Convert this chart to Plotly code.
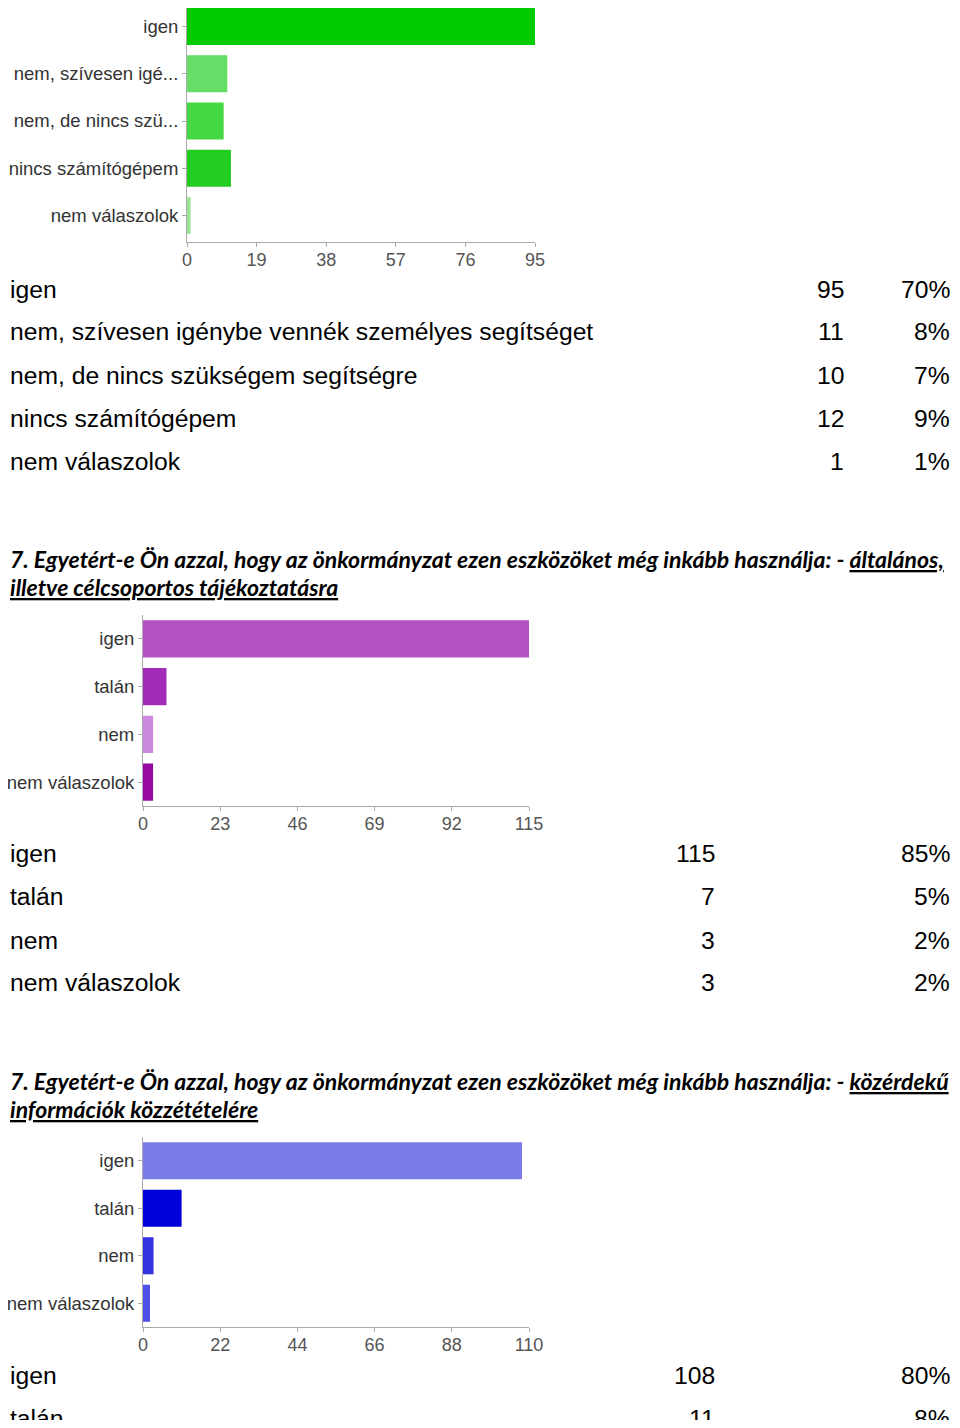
import plotly.graph_objects as go

# page is 960x1428, the html body adds an 8px margin, so the figure is a bit smaller
OFF = 8
W, H = 960 - 2 * OFF, 1428 - 2 * OFF

# question 6 (tail of previous page)
q6_axis = ["igen", "nem, szívesen igé...", "nem, de nincs szü...", "nincs számítógépem", "nem válaszolok"]
q6_rows = ["igen", "nem, szívesen igénybe vennék személyes segítséget",
           "nem, de nincs szükségem segítségre", "nincs számítógépem", "nem válaszolok"]
q6_counts = [95, 11, 10, 12, 1]
q6_pcts = ["70%", "8%", "7%", "9%", "1%"]
q6_colors = ["#00cc00", "#66dd66", "#44d944", "#22cc22", "#99e699"]

# question 7a
q7a_title = "7. Egyetért-e Ön azzal, hogy az önkormányzat ezen eszközöket még inkább használja: - <u>általános,</u>"
q7a_title2 = "<u>illetve célcsoportos tájékoztatásra</u>"
q7a_labels = ["igen", "talán", "nem", "nem válaszolok"]
q7a_counts = [115, 7, 3, 3]
q7a_pcts = ["85%", "5%", "2%", "2%"]
q7a_colors = ["#b452c5", "#a12cb8", "#cc88dd", "#990aa5"]

# question 7b
q7b_title = "7. Egyetért-e Ön azzal, hogy az önkormányzat ezen eszközöket még inkább használja: - <u>közérdekű</u>"
q7b_title2 = "<u>információk közzétételére</u>"
q7b_labels = ["igen", "talán", "nem", "nem válaszolok"]
q7b_counts = [108, 11, 3, 2]
q7b_pcts = ["80%", "8%"]
q7b_colors = ["#7b7be8", "#0000dd", "#3333e0", "#5050e8"]


def py(px):
    # page pixel -> paper fraction
    return min(max(1 - (px - OFF) / H, 0), 1)


def px_x(px):
    return min(max((px - OFF) / W, 0), 1)


fig = go.Figure()
layout = dict(width=W, height=H, margin=dict(l=0, r=0, t=0, b=0, autoexpand=False),
              paper_bgcolor="white", plot_bgcolor="white", showlegend=False,
              font=dict(family="Liberation Sans, Arial", color="#222"))

# (labels, counts, colors, x0, x1, top, bottom, dtick, xmax, y range)
charts = [
    (q6_axis, q6_counts, q6_colors, 187, 535, 8, 242, 19, 95, [4.561, -0.392]),
    (q7a_labels, q7a_counts, q7a_colors, 143, 529, 615, 806, 23, 115, None),
    (q7b_labels, q7b_counts, q7b_colors, 143, 529, 1137, 1327, 22, 110, None),
]

for i, (labels, counts, colors, x0, x1, top, bottom, step, xmax, yr) in enumerate(charts):
    n = "" if i == 0 else str(i + 1)
    fig.add_trace(go.Bar(
        x=counts, y=labels, orientation="h",
        marker=dict(color=colors, line=dict(width=0)),
        xaxis="x" + n, yaxis="y" + n, hoverinfo="x+y",
    ))
    layout["xaxis" + n] = dict(
        domain=[px_x(x0), px_x(x1)], range=[0, xmax], tick0=0, dtick=step,
        showgrid=False, zeroline=False, showline=True, linecolor="#aaa",
        ticks="outside", ticklen=4, tickcolor="#aaa", automargin=False,
        ticklabelstandoff=-3,
        tickfont=dict(size=18, color="#555"), anchor="y" + n, fixedrange=True,
    )
    yax = dict(
        domain=[py(bottom), py(top)],
        showgrid=False, zeroline=False, showline=True, linecolor="#aaa",
        ticks="outside", ticklen=4, tickcolor="#aaa", automargin=False,
        tickfont=dict(size=18.5, color="#333"), anchor="x" + n, fixedrange=True,
    )
    if yr:
        yax["range"] = yr
    else:
        yax["autorange"] = "reversed"
    layout["yaxis" + n] = yax
fig.update_layout(bargap=0.22)

ann = []
row_font = dict(family="Liberation Sans, Arial", size=24.7, color="#000")


def table(rows, counts, pcts, ys, count_x):
    for r, c, p, y in zip(rows, counts, pcts, ys):
        ann.append(dict(text=r, x=px_x(4), y=py(y), xanchor="left", yanchor="middle", font=row_font))
        ann.append(dict(text=str(c), x=px_x(count_x), y=py(y), xanchor="right", yanchor="middle", font=row_font))
        ann.append(dict(text=p, x=px_x(957), y=py(y), xanchor="right", yanchor="middle", font=row_font))


table(q6_rows, q6_counts, q6_pcts, [289, 332, 375, 418, 461], 846)
table(q7a_labels, q7a_counts, q7a_pcts, [853, 896, 940, 983], 717)
table(q7b_labels[:2], q7b_counts[:2], q7b_pcts, [1375, 1418], 717)

title_font = dict(family="Lato", size=23, color="#000")
for txt, y in [(q7a_title, 559), (q7a_title2, 587), (q7b_title, 1081), (q7b_title2, 1109)]:
    ann.append(dict(text="<b><i>" + txt + "</i></b>", x=px_x(4), y=py(y),
                    xanchor="left", yanchor="middle", font=title_font))

for a in ann:
    a.update(xref="paper", yref="paper", showarrow=False)

layout["annotations"] = ann
fig.update_layout(**layout)

fig.write_html("out.html")
